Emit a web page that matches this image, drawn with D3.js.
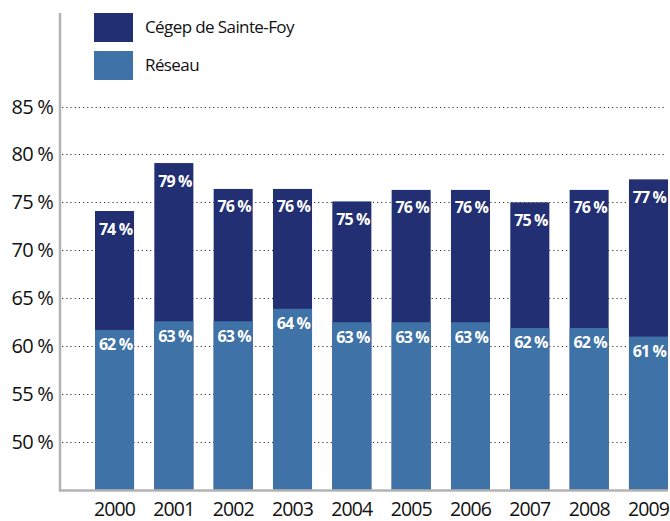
<!DOCTYPE html>
<html>
<head>
<meta charset="utf-8">
<script src="https://cdn.jsdelivr.net/npm/d3@7"></script>
<style>
  body { margin: 0; background: #fff; }
  svg { display: block; font-family: "Open Sans", "Noto Sans", sans-serif; }
</style>
</head>
<body>
<svg id="chart"></svg>
<script>
// données
const annees = ["2000", "2001", "2002", "2003", "2004", "2005", "2006", "2007", "2008", "2009"];
const cegep = [74.1, 79.1, 76.4, 76.4, 75.1, 76.3, 76.3, 75.0, 76.3, 77.4];
const reseau = [61.7, 62.6, 62.6, 63.9, 62.5, 62.5, 62.5, 61.9, 61.9, 61.0];
const cegepLabels = ["74", "79", "76", "76", "75", "76", "76", "75", "76", "77"];
const reseauLabels = ["62", "63", "63", "64", "63", "63", "63", "62", "62", "61"];
const yTicks = [50, 55, 60, 65, 70, 75, 80, 85];
const series = ["Cégep de Sainte-Foy", "Réseau"];

const width = 670, height = 521;
const colors = ["#222f72", "#3f72a6"];

let svg = d3.select("#chart").attr("width", width).attr("height", height);

// échelles
let x = d3.scaleBand().domain(annees).range([95, 668]).paddingInner(0.342).paddingOuter(0);
let y = d3.scaleLinear().domain([45, 85]).range([490, 106.5]);

// grille pointillée
svg.append("g").selectAll("line").data(yTicks).join("line")
  .attr("x1", 62).attr("x2", 664)
  .attr("y1", d => Math.round(y(d)) + 0.5).attr("y2", d => Math.round(y(d)) + 0.5)
  .attr("stroke", "#333").attr("stroke-width", 1.2)
  .attr("stroke-dasharray", "1.2,3");

// libellés axe y
svg.append("g").selectAll("text").data(yTicks).join("text")
  .attr("x", 53).attr("y", d => y(d) + 7)
  .attr("text-anchor", "end")
  .attr("font-size", 20).attr("fill", "#111")
  .attr("letter-spacing", -0.8)
  .text(d => d + " %");

// barres cégep (derrière)
svg.append("g").selectAll("rect").data(cegep).join("rect")
  .attr("x", (d, i) => x(annees[i])).attr("width", x.bandwidth())
  .attr("y", d => y(d)).attr("height", d => y(45) - y(d))
  .attr("fill", colors[0]);

// barres réseau (devant)
svg.append("g").selectAll("rect").data(reseau).join("rect")
  .attr("x", (d, i) => x(annees[i])).attr("width", x.bandwidth())
  .attr("y", d => y(d)).attr("height", d => y(45) - y(d))
  .attr("fill", colors[1]);

// étiquettes de valeur
svg.append("g").selectAll("text").data(cegep).join("text")
  .attr("x", (d, i) => x(annees[i]) + x.bandwidth() / 2 + 1)
  .attr("y", d => y(d) + 23.5)
  .attr("text-anchor", "middle").attr("fill", "#fff")
  .attr("font-size", 16).attr("font-weight", "bold").attr("letter-spacing", -0.9)
  .text((d, i) => cegepLabels[i] + " %");

svg.append("g").selectAll("text").data(reseau).join("text")
  .attr("x", (d, i) => x(annees[i]) + x.bandwidth() / 2 + 1)
  .attr("y", d => y(d) + 20.5)
  .attr("text-anchor", "middle").attr("fill", "#fff")
  .attr("font-size", 16).attr("font-weight", "bold").attr("letter-spacing", -0.9)
  .text((d, i) => reseauLabels[i] + " %");

// axes
svg.append("line").attr("x1", 60).attr("x2", 60).attr("y1", 13).attr("y2", 491.5)
  .attr("stroke", "#b3b3b3").attr("stroke-width", 2.5);
svg.append("line").attr("x1", 59).attr("x2", 668).attr("y1", 490.5).attr("y2", 490.5)
  .attr("stroke", "#b3b3b3").attr("stroke-width", 2.5);

// années
svg.append("g").selectAll("text").data(annees).join("text")
  .attr("x", d => x(d) + x.bandwidth() / 2).attr("y", 516)
  .attr("text-anchor", "middle").attr("font-size", 19.5).attr("fill", "#111")
  .attr("letter-spacing", -0.9)
  .text(d => d);

// légende
let legend = svg.append("g").selectAll("g").data(series).join("g")
  .attr("transform", (d, i) => "translate(94," + (13 + i * 38) + ")");
legend.append("rect").attr("width", 39).attr("height", 29).attr("fill", (d, i) => colors[i]);
legend.append("text").attr("x", 51).attr("y", 20)
  .attr("font-size", 17).attr("fill", "#111").attr("letter-spacing", -0.6)
  .text(d => d);
</script>
</body>
</html>
